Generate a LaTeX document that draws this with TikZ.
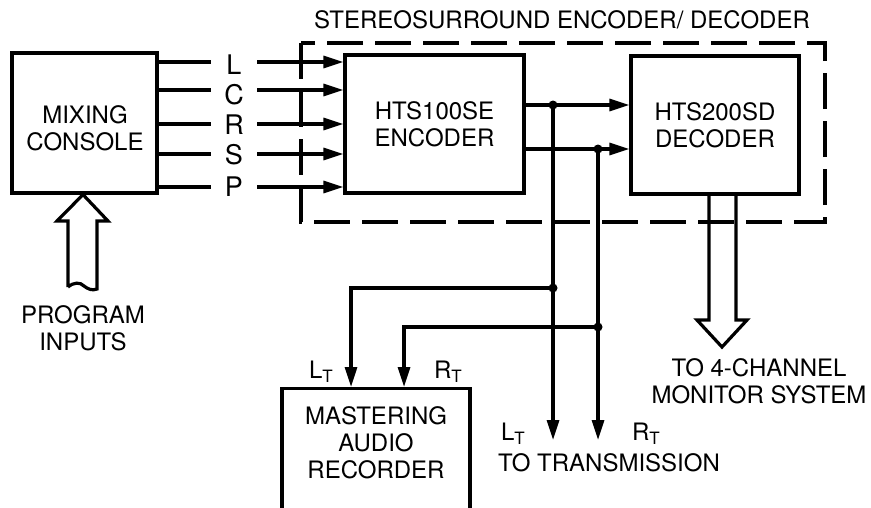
\documentclass[tikz,border=0pt]{standalone}
\usepackage{fontspec}
\setmainfont{TeX Gyre Heros}
\usetikzlibrary{arrows.meta}
\newcommand{\subT}{\raisebox{-4.5pt}{\fontsize{17}{17}\selectfont T}}
\begin{document}
\begin{tikzpicture}[x=1pt,y=-1pt,
  box/.style={draw, line width=3.2pt, inner sep=0pt},
  txt/.style={font=\fontsize{24}{27}\selectfont, align=center, inner sep=0pt},
  chan/.style={font=\fontsize{27}{30}\selectfont, inner sep=0pt},
  wire/.style={line width=3.2pt},
  arr/.style={wire, -{Triangle[length=20pt,width=12pt]}},
  dot/.style={circle, fill, inner sep=0pt, minimum size=9pt},
  dashbox/.style={line width=3.2pt, dash pattern=on 36pt off 12pt},
  hollow/.style={line width=3.2pt, line join=miter}]

\clip (0,0) rectangle (871,507);
\fill[white] (0,0) rectangle (871,507);

% boxes
\node[box, minimum width=145pt, minimum height=140pt] (con) at (84.5,123) {};
\node[txt] (contxt) at (85,128) {MIXING\\CONSOLE};
\node[box, txt, minimum width=179pt, minimum height=138pt] (enc) at (434.5,124) {HTS100SE\\ENCODER};
\node[box, txt, minimum width=168pt, minimum height=138pt] (dec) at (715,125) {HTS200SD\\DECODER};
\node[box, minimum width=188pt, minimum height=140pt, anchor=north] (rec) at (376,387) {};
\node[txt] (rectxt) at (376,443) {MASTERING\\AUDIO\\RECORDER};

% dashed enclosure
\node[txt] (title) at (562,20) {STEREOSURROUND ENCODER/ DECODER};
\draw[dashbox] (301,43) rectangle (825,222);

% channel lines
\foreach \n/\ly/\ty in {L/62/65, C/90/95, R/124/125, S/154/155, P/187/187}{
  \node[chan] (lb\n) at (234,\ty) {\n};
  \coordinate (a\n) at (211,\ly);
  \coordinate (b\n) at (257,\ly);
  \draw[wire] (con.east |- a\n) -- (a\n);
  \draw[arr] (b\n) -- (enc.west |- b\n);
}

% encoder outputs
\node[dot] (j1) at (553,105) {};
\node[dot] (j2) at (598,149) {};
\draw[arr] (enc.east |- j1) -- (dec.west |- j1);
\draw[arr] (enc.east |- j2) -- (dec.west |- j2);
\node[dot] (j3) at (553,288) {};
\node[dot] (j4) at (598,327) {};
\coordinate (tL) at (553,440);
\coordinate (tR) at (598,440);
\draw[arr] (j1.center) -- (tL);
\draw[arr] (j2.center) -- (tR);
\coordinate (rL) at (351,387);
\coordinate (rR) at (404,387);
\draw[arr] (j3.center) -| (rL);
\draw[arr] (j4.center) -| (rR);

% labels
\node[txt, anchor=base] (lt1) at (321,378) {L\subT};
\node[txt, anchor=base] (rt1) at (448,378) {R\subT};
\node[txt, anchor=base] (lt2) at (513,440) {L\subT};
\node[txt, anchor=base] (rt2) at (646,440) {R\subT};
\node[txt] (trans) at (609,463) {TO TRANSMISSION};
\node[txt] (mon) at (759,381.5) {TO 4-CHANNEL\\MONITOR SYSTEM};
\node[txt] (prog) at (83,328.5) {PROGRAM\\INPUTS};

% hollow arrows
\coordinate (pin) at (83,194);
\draw[hollow] (68,287) -- (68,221) -- (57,221) -- (con.south -| pin) -- (108,221) -- (97,221) -- (97,289)
  .. controls (92,291) and (88,289) .. (84,286) .. controls (80,282) and (74,282) .. (68,287);
\coordinate (m1) at (709,320);
\coordinate (m2) at (736,320);
\coordinate (mtip) at (722,347);
\draw[hollow] (dec.south -| m1) -- (m1) -- (697,320) -- (mtip) -- (747,320) -- (m2) -- (dec.south -| m2);
\end{tikzpicture}
\end{document}
